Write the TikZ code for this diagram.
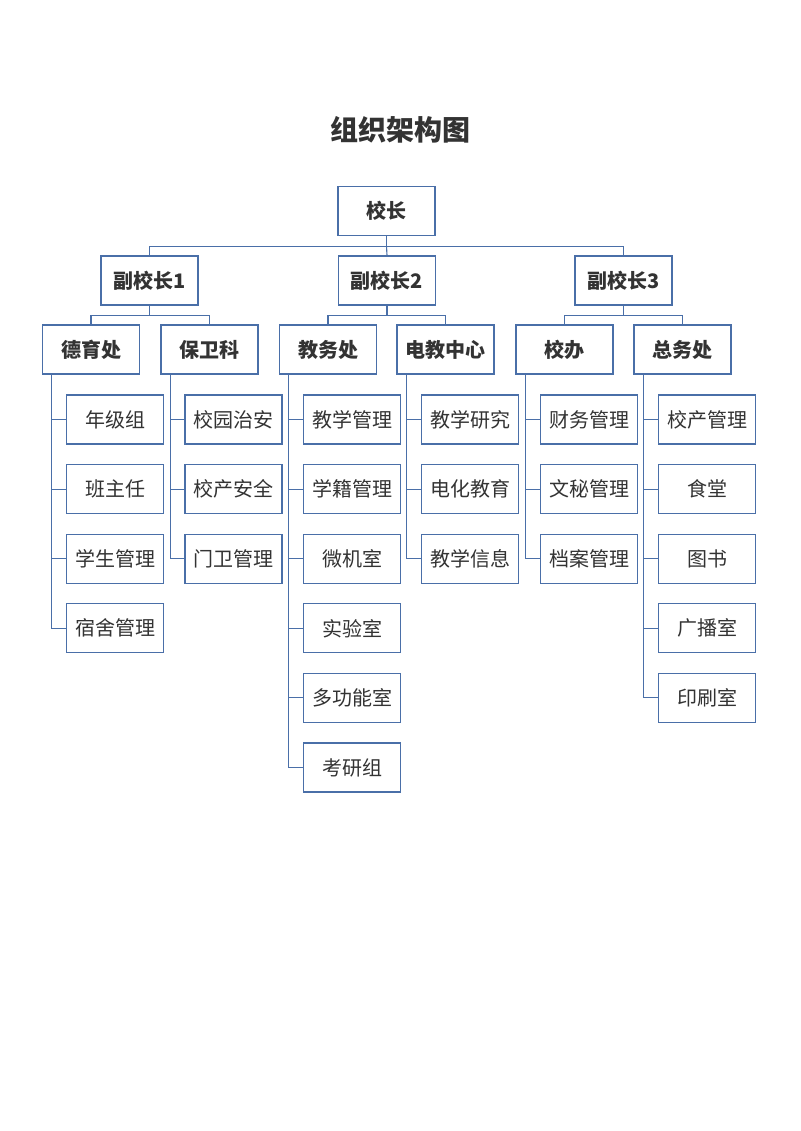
\documentclass[tikz,border=0pt]{standalone}
\usepackage{fontspec}
\setmainfont{Noto Sans CJK SC}
\begin{document}
\begin{tikzpicture}[x=1pt,y=-1pt,
  bx/.style={draw=bblue,line width=1.3pt,fill=white,minimum width=97pt,minimum height=49pt,inner sep=0pt,text=tgray,font=\fontsize{20}{22}\selectfont},
  hb/.style={bx,font=\fontsize{20}{22}\selectfont\bfseries},
  ln/.style={draw=bblue,line width=1.1pt}]
\definecolor{bblue}{HTML}{4A6FA8}
\definecolor{tgray}{HTML}{333333}
\useasboundingbox (0,0) rectangle (800,1131);
\node[text=tgray,font=\fontsize{28}{30}\selectfont\bfseries] (title) at (400,130) {组织架构图};
\node[hb] (root) at (386.5,211) {校长};
\node[hb] (v1) at (149.5,280.5) {副校长1};
\node[hb] (v2) at (387,280.5) {副校长2};
\node[hb] (v3) at (623.5,280.5) {副校长3};
\foreach \n/\x/\t in {d1/91/德育处,d2/209.5/保卫科,d3/328/教务处,d4/445.5/电教中心,d5/564.5/校办,d6/682.5/总务处}
  \node[hb] (\n) at (\x,349.5) {\t};
% connectors
\draw[ln] (root.south) -- ++(0,10) coordinate (rb);
\draw[ln] (v1.north) |- (rb) -| (v3.north);
\draw[ln] (rb) -- (v2.north);
\foreach \p/\a/\b in {v1/d1/d2,v2/d3/d4,v3/d5/d6}{
  \draw[ln] (\p.south) -- ++(0,10) coordinate (pb);
  \draw[ln] (\a.north) |- (pb) -| (\b.north);
}
% leaves
\newcommand{\leaves}[3]{%
  \foreach \t [count=\i] in {#3}{
    \node[bx] (#1l\i) at (#2,{419.5+69.6*(\i-1)}) {\t};
    \draw[ln] ([xshift=10pt]#1.south west) |- (#1l\i.west);
  }}
\leaves{d1}{115}{年级组,班主任,学生管理,宿舍管理}
\leaves{d2}{233.5}{校园治安,校产安全,门卫管理}
\leaves{d3}{352}{教学管理,学籍管理,微机室,实验室,多功能室,考研组}
\leaves{d4}{470}{教学研究,电化教育,教学信息}
\leaves{d5}{589}{财务管理,文秘管理,档案管理}
\leaves{d6}{707}{校产管理,食堂,图书,广播室,印刷室}
\end{tikzpicture}
\end{document}
